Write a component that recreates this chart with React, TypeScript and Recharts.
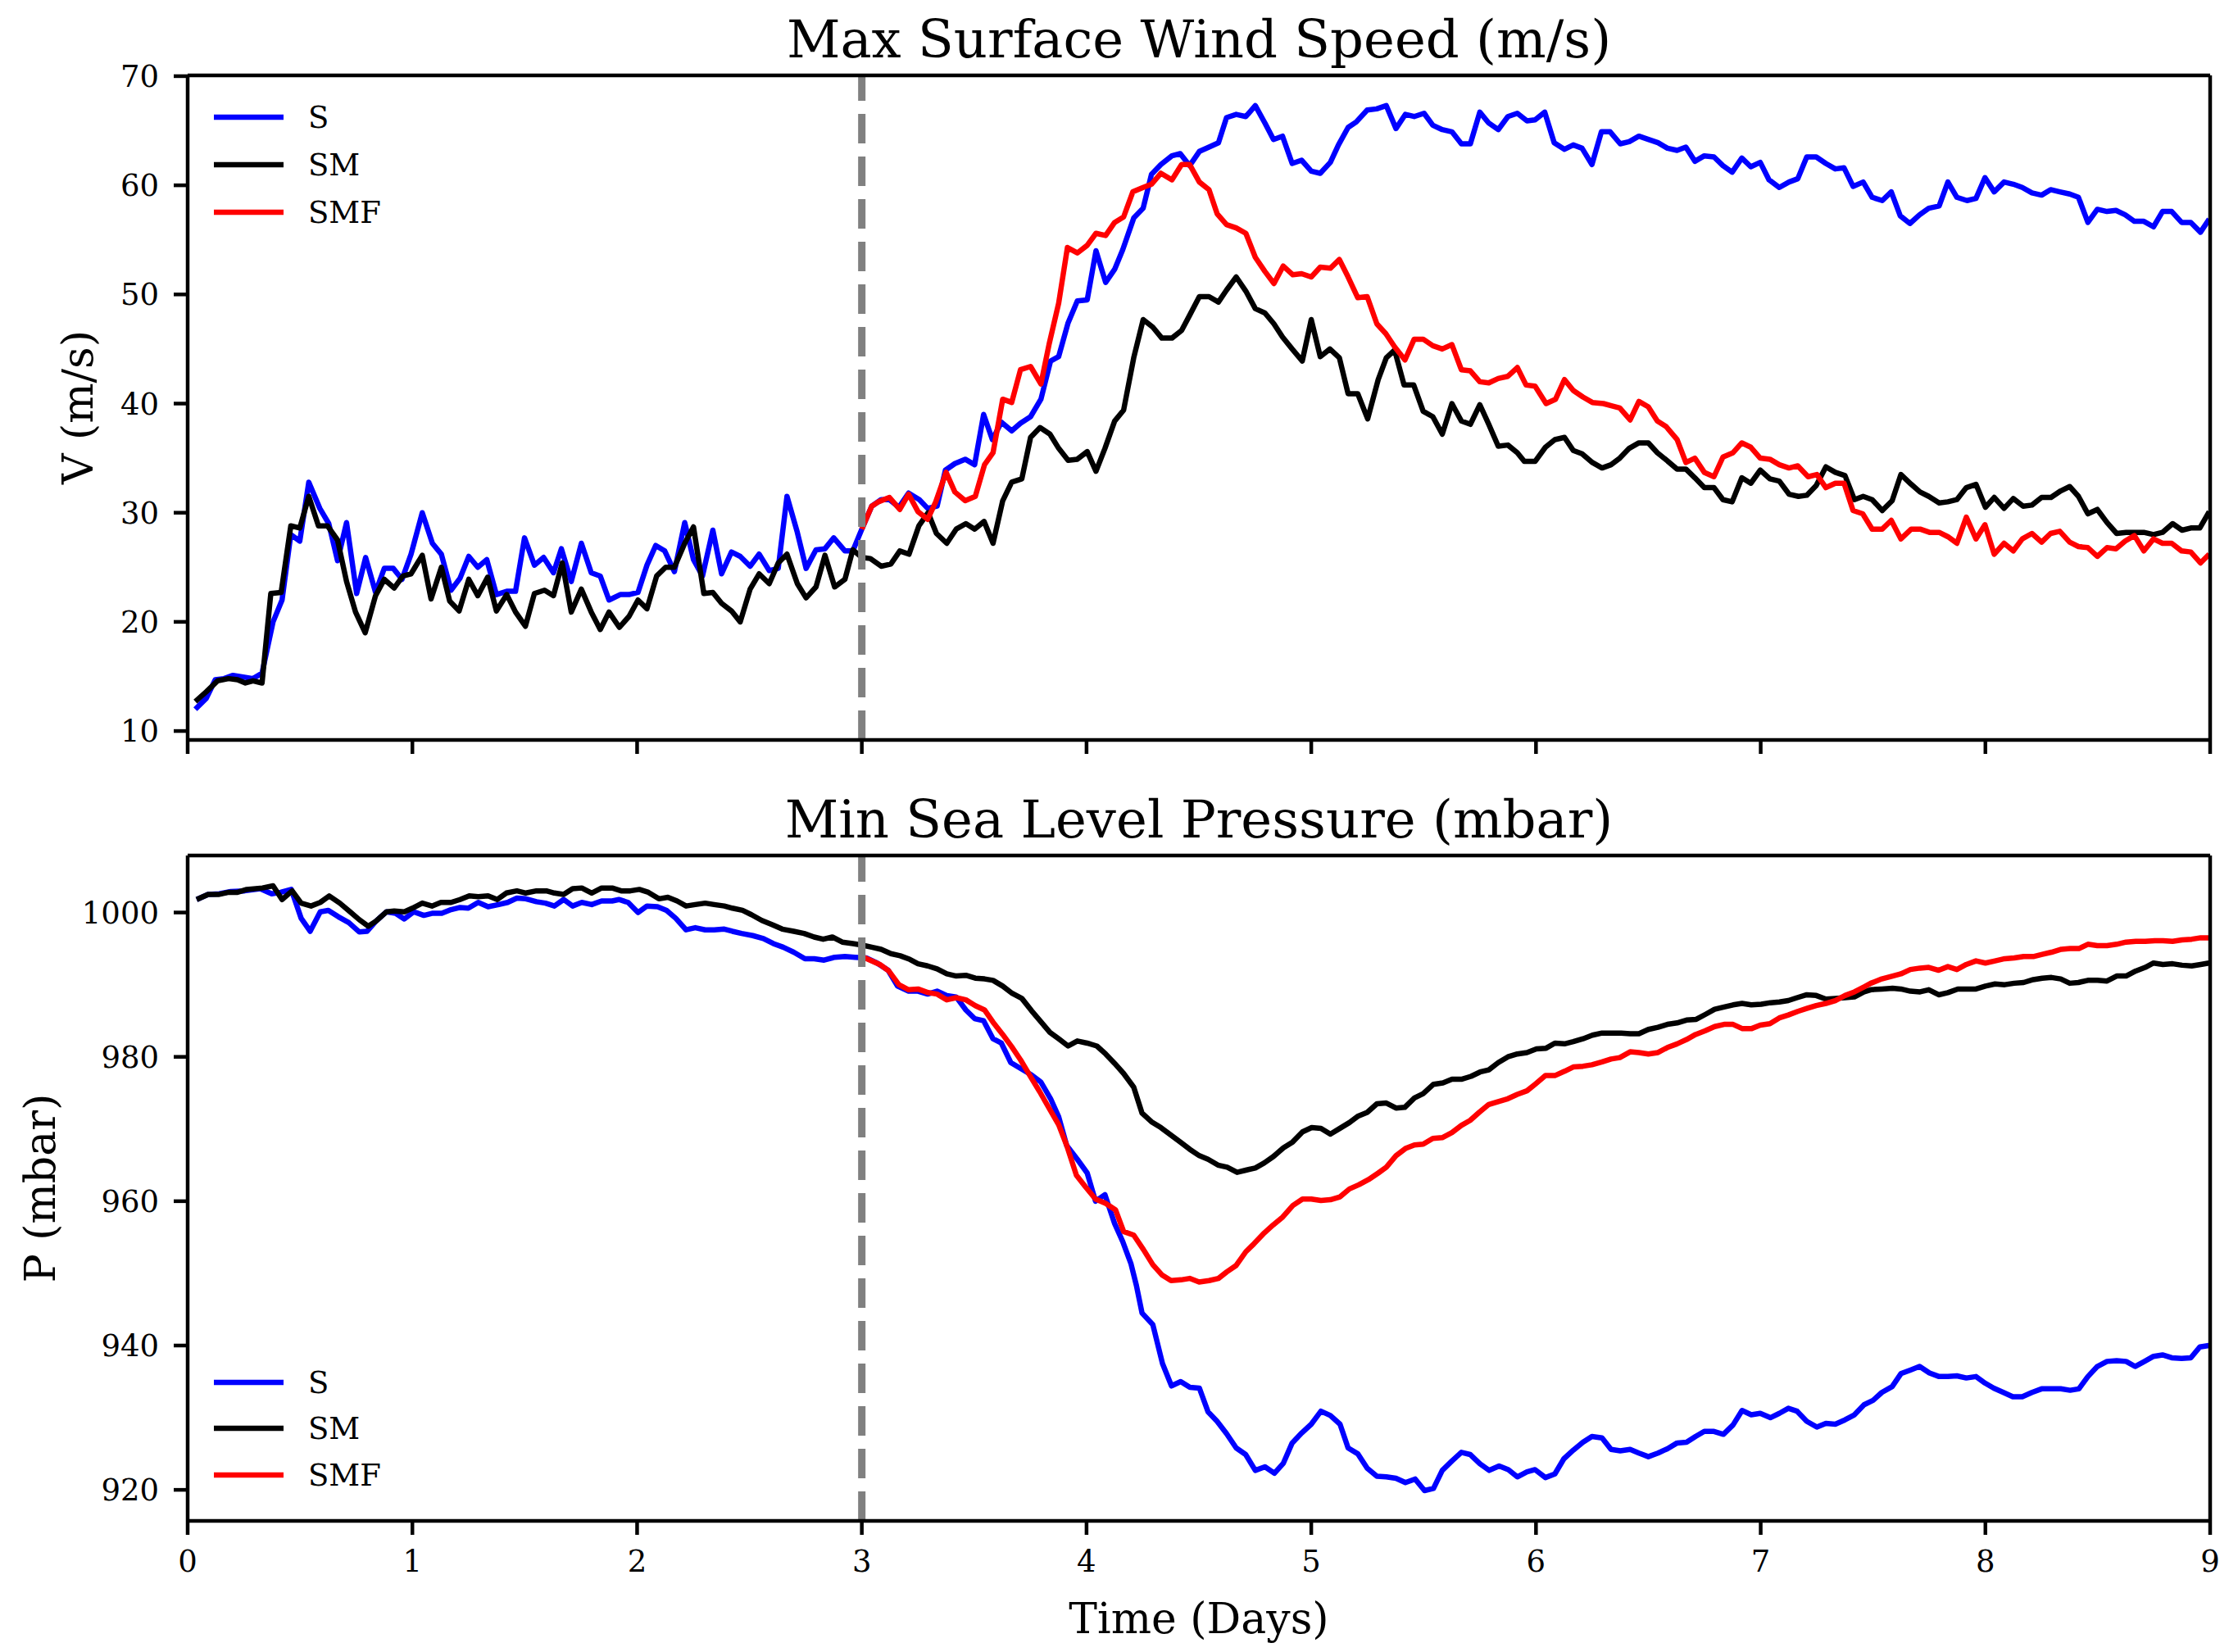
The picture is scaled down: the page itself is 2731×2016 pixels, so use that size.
import React from "react";
import { LineChart, Line, XAxis, YAxis, ReferenceLine } from "recharts";

// [day, value] pairs
const windS: [number, number][] = [
  [0.034, 12.0], [0.083, 13.0], [0.123, 14.7], [0.162, 14.8], [0.202, 15.1], [0.291, 14.8], [0.331, 15.3], [0.38, 20.0],
  [0.42, 22.0], [0.459, 28.0], [0.499, 27.4], [0.539, 32.8], [0.588, 30.4], [0.628, 29.0], [0.667, 25.6], [0.707, 29.1],
  [0.752, 22.6], [0.792, 25.9], [0.836, 22.7], [0.875, 24.9], [0.915, 24.9], [0.954, 23.9], [0.994, 26.2], [1.044, 30.0],
  [1.089, 27.2], [1.129, 26.2], [1.172, 22.9], [1.212, 24.0], [1.251, 26.0], [1.291, 25.0], [1.331, 25.7], [1.374, 22.5],
  [1.42, 22.8], [1.459, 22.8], [1.499, 27.7], [1.543, 25.2], [1.584, 25.9], [1.628, 24.5], [1.663, 26.7], [1.707, 23.7],
  [1.752, 27.2], [1.796, 24.5], [1.836, 24.2], [1.875, 22.0], [1.925, 22.5], [1.964, 22.5], [2.004, 22.7], [2.044, 25.2],
  [2.083, 27.0], [2.123, 26.5], [2.166, 24.6], [2.212, 29.1], [2.251, 25.7], [2.291, 24.2], [2.337, 28.4], [2.376, 24.4],
  [2.42, 26.4], [2.459, 26.0], [2.503, 25.1], [2.543, 26.2], [2.588, 24.7], [2.628, 24.9], [2.667, 31.5], [2.713, 28.2],
  [2.752, 24.9], [2.796, 26.6], [2.836, 26.7], [2.875, 27.7], [2.925, 26.5], [2.96, 26.5], [3.0, 28.5], [3.044, 30.6],
  [3.086, 31.2], [3.123, 31.2], [3.165, 30.5], [3.208, 31.8], [3.256, 31.2], [3.293, 30.4], [3.335, 30.6], [3.372, 33.9],
  [3.414, 34.5], [3.46, 34.9], [3.502, 34.4], [3.542, 39.0], [3.581, 36.7], [3.621, 38.3], [3.667, 37.5], [3.706, 38.2],
  [3.751, 38.8], [3.797, 40.4], [3.84, 43.9], [3.876, 44.3], [3.918, 47.4], [3.959, 49.4], [4.003, 49.5], [4.042, 54.0],
  [4.085, 51.1], [4.125, 52.3], [4.161, 54.1], [4.21, 57.0], [4.252, 57.9], [4.289, 61.0], [4.331, 61.9], [4.38, 62.7],
  [4.417, 62.9], [4.459, 61.8], [4.502, 63.1], [4.545, 63.5], [4.587, 63.9], [4.623, 66.2], [4.666, 66.5], [4.709, 66.3],
  [4.751, 67.3], [4.794, 65.7], [4.832, 64.2], [4.872, 64.5], [4.915, 62.0], [4.957, 62.3], [5.0, 61.3], [5.04, 61.1],
  [5.085, 62.1], [5.121, 63.7], [5.164, 65.3], [5.2, 65.8], [5.249, 66.9], [5.291, 67.0], [5.334, 67.3], [5.377, 65.2],
  [5.419, 66.5], [5.458, 66.3], [5.502, 66.6], [5.541, 65.5], [5.583, 65.1], [5.626, 64.9], [5.668, 63.8], [5.708, 63.8],
  [5.75, 66.7], [5.79, 65.7], [5.832, 65.1], [5.875, 66.3], [5.917, 66.6], [5.96, 65.9], [5.996, 66.0], [6.039, 66.7],
  [6.081, 63.9], [6.127, 63.3], [6.166, 63.7], [6.205, 63.4], [6.249, 61.9], [6.291, 64.9], [6.33, 64.9], [6.375, 63.8],
  [6.415, 64.0], [6.458, 64.5], [6.5, 64.2], [6.543, 63.9], [6.585, 63.4], [6.628, 63.2], [6.667, 63.5], [6.707, 62.2],
  [6.749, 62.7], [6.792, 62.6], [6.832, 61.8], [6.873, 61.2], [6.916, 62.5], [6.956, 61.7], [6.998, 62.1], [7.037, 60.5],
  [7.083, 59.8], [7.126, 60.3], [7.165, 60.6], [7.205, 62.6], [7.247, 62.6], [7.29, 62.0], [7.332, 61.5], [7.371, 61.6],
  [7.411, 59.9], [7.456, 60.3], [7.496, 58.9], [7.541, 58.6], [7.581, 59.4], [7.621, 57.2], [7.664, 56.5], [7.707, 57.3],
  [7.748, 57.9], [7.794, 58.1], [7.833, 60.3], [7.873, 58.9], [7.918, 58.6], [7.958, 58.8], [7.998, 60.7], [8.039, 59.4],
  [8.083, 60.3], [8.124, 60.1], [8.164, 59.8], [8.207, 59.3], [8.25, 59.1], [8.29, 59.6], [8.331, 59.4], [8.375, 59.2],
  [8.414, 58.9], [8.456, 56.6], [8.498, 57.8], [8.541, 57.6], [8.581, 57.7], [8.622, 57.3], [8.663, 56.7], [8.705, 56.7],
  [8.748, 56.2], [8.788, 57.6], [8.829, 57.6], [8.873, 56.6], [8.914, 56.6], [8.957, 55.7], [8.996, 56.9],
];

const windSM: [number, number][] = [
  [0.034, 12.7], [0.083, 13.6], [0.133, 14.6], [0.182, 14.8], [0.222, 14.7], [0.257, 14.4], [0.291, 14.6], [0.331, 14.4],
  [0.37, 22.6], [0.416, 22.7], [0.459, 28.8], [0.499, 28.6], [0.539, 31.5], [0.582, 28.8], [0.622, 28.8], [0.667, 27.5],
  [0.707, 23.7], [0.747, 20.9], [0.79, 19.0], [0.836, 22.4], [0.875, 23.9], [0.919, 23.1], [0.958, 24.2], [0.994, 24.4],
  [1.044, 26.1], [1.083, 22.1], [1.129, 25.0], [1.166, 21.9], [1.208, 21.0], [1.251, 23.9], [1.291, 22.4], [1.335, 24.1],
  [1.374, 21.0], [1.42, 22.5], [1.459, 20.9], [1.503, 19.6], [1.543, 22.6], [1.588, 22.9], [1.628, 22.4], [1.667, 25.4],
  [1.707, 20.9], [1.752, 23.0], [1.796, 20.9], [1.836, 19.3], [1.875, 20.9], [1.921, 19.5], [1.964, 20.5], [2.004, 22.0],
  [2.044, 21.2], [2.087, 24.2], [2.127, 25.0], [2.166, 25.0], [2.212, 27.2], [2.251, 28.7], [2.297, 22.6], [2.337, 22.7],
  [2.376, 21.7], [2.42, 21.0], [2.459, 20.0], [2.503, 23.0], [2.543, 24.4], [2.588, 23.5], [2.628, 25.4], [2.667, 26.2],
  [2.713, 23.5], [2.752, 22.2], [2.796, 23.2], [2.836, 26.1], [2.879, 23.2], [2.925, 23.9], [2.96, 26.6], [3.0, 25.9],
  [3.038, 25.8], [3.086, 25.1], [3.129, 25.3], [3.169, 26.5], [3.21, 26.2], [3.254, 28.8], [3.295, 30.0], [3.332, 28.1],
  [3.378, 27.2], [3.42, 28.5], [3.463, 29.0], [3.502, 28.5], [3.544, 29.2], [3.584, 27.2], [3.627, 31.1], [3.667, 32.8],
  [3.712, 33.1], [3.751, 36.9], [3.793, 37.8], [3.837, 37.2], [3.876, 35.9], [3.918, 34.8], [3.959, 34.9], [4.003, 35.6],
  [4.042, 33.8], [4.082, 35.9], [4.125, 38.4], [4.165, 39.4], [4.21, 44.2], [4.252, 47.7], [4.295, 47.0], [4.335, 46.0],
  [4.38, 46.0], [4.423, 46.7], [4.459, 48.1], [4.502, 49.8], [4.545, 49.8], [4.587, 49.3], [4.623, 50.4], [4.666, 51.6],
  [4.709, 50.3], [4.751, 48.7], [4.794, 48.3], [4.834, 47.3], [4.872, 46.1], [4.915, 45.0], [4.96, 43.9], [5.0, 47.7],
  [5.04, 44.3], [5.083, 45.0], [5.125, 44.2], [5.164, 40.9], [5.207, 40.9], [5.251, 38.6], [5.298, 42.2], [5.334, 44.2],
  [5.371, 44.9], [5.413, 41.7], [5.456, 41.7], [5.498, 39.3], [5.541, 38.8], [5.583, 37.2], [5.626, 40.0], [5.668, 38.4],
  [5.708, 38.1], [5.75, 39.9], [5.79, 38.1], [5.832, 36.1], [5.875, 36.2], [5.917, 35.5], [5.948, 34.7], [5.996, 34.7],
  [6.042, 36.0], [6.084, 36.7], [6.127, 36.9], [6.166, 35.7], [6.205, 35.4], [6.251, 34.6], [6.294, 34.1], [6.334, 34.4],
  [6.373, 35.0], [6.415, 35.9], [6.458, 36.4], [6.5, 36.4], [6.54, 35.5], [6.582, 34.8], [6.628, 34.0], [6.667, 34.0],
  [6.707, 33.2], [6.749, 32.3], [6.792, 32.3], [6.832, 31.2], [6.873, 31.0], [6.916, 33.2], [6.956, 32.7], [6.998, 33.9],
  [7.041, 33.1], [7.083, 32.9], [7.126, 31.7], [7.168, 31.5], [7.205, 31.6], [7.247, 32.5], [7.29, 34.2], [7.332, 33.7],
  [7.375, 33.4], [7.417, 31.2], [7.456, 31.5], [7.496, 31.2], [7.541, 30.2], [7.585, 31.1], [7.624, 33.5], [7.67, 32.6],
  [7.709, 31.9], [7.748, 31.5], [7.794, 30.9], [7.833, 31.0], [7.873, 31.2], [7.915, 32.3], [7.958, 32.6], [8.0, 30.5],
  [8.039, 31.4], [8.083, 30.4], [8.124, 31.3], [8.168, 30.6], [8.207, 30.7], [8.25, 31.4], [8.292, 31.4], [8.335, 32.0],
  [8.375, 32.4], [8.414, 31.5], [8.456, 29.9], [8.498, 30.3], [8.541, 29.1], [8.584, 28.1], [8.626, 28.2], [8.665, 28.2],
  [8.705, 28.2], [8.748, 28.0], [8.788, 28.2], [8.833, 29.0], [8.875, 28.4], [8.914, 28.6], [8.954, 28.6], [8.996, 30.1],
];

const windSMF: [number, number][] = [
  [3.0, 28.5], [3.044, 30.6], [3.074, 31.0], [3.123, 31.4], [3.169, 30.3], [3.208, 31.7], [3.25, 30.1], [3.293, 29.4],
  [3.329, 31.0], [3.375, 33.7], [3.414, 31.9], [3.46, 31.1], [3.505, 31.5], [3.546, 34.4], [3.584, 35.5], [3.627, 40.4],
  [3.667, 40.1], [3.706, 43.1], [3.751, 43.4], [3.797, 41.8], [3.833, 45.4], [3.876, 49.2], [3.915, 54.3], [3.959, 53.8],
  [4.003, 54.5], [4.042, 55.6], [4.085, 55.4], [4.125, 56.6], [4.165, 57.1], [4.206, 59.4], [4.252, 59.8], [4.289, 60.1],
  [4.331, 61.1], [4.38, 60.5], [4.423, 61.9], [4.459, 61.9], [4.502, 60.3], [4.545, 59.6], [4.581, 57.4], [4.623, 56.4],
  [4.666, 56.1], [4.709, 55.6], [4.751, 53.4], [4.794, 52.1], [4.834, 51.0], [4.875, 52.6], [4.918, 51.8], [4.957, 51.9],
  [5.0, 51.6], [5.04, 52.5], [5.085, 52.4], [5.125, 53.2], [5.164, 51.6], [5.207, 49.7], [5.249, 49.8], [5.292, 47.3],
  [5.332, 46.4], [5.371, 45.2], [5.417, 44.0], [5.458, 45.9], [5.498, 45.9], [5.541, 45.3], [5.583, 45.0], [5.626, 45.4],
  [5.668, 43.1], [5.708, 43.0], [5.75, 42.0], [5.79, 41.9], [5.832, 42.3], [5.875, 42.5], [5.917, 43.3], [5.956, 41.7],
  [5.996, 41.6], [6.045, 40.0], [6.087, 40.4], [6.127, 42.2], [6.166, 41.2], [6.209, 40.6], [6.251, 40.1], [6.3, 40.0],
  [6.335, 39.8], [6.373, 39.6], [6.419, 38.5], [6.458, 40.2], [6.5, 39.7], [6.54, 38.4], [6.579, 37.9], [6.628, 36.7],
  [6.667, 34.6], [6.707, 35.0], [6.749, 33.7], [6.792, 33.3], [6.832, 35.1], [6.877, 35.5], [6.916, 36.4], [6.956, 36.0],
  [6.998, 35.0], [7.041, 34.9], [7.083, 34.4], [7.126, 34.1], [7.165, 34.3], [7.211, 33.3], [7.25, 33.5], [7.29, 32.3],
  [7.332, 32.7], [7.371, 32.7], [7.411, 30.2], [7.454, 29.9], [7.496, 28.5], [7.541, 28.5], [7.581, 29.3], [7.624, 27.6],
  [7.67, 28.5], [7.709, 28.5], [7.751, 28.2], [7.794, 28.2], [7.833, 27.8], [7.873, 27.2], [7.915, 29.6], [7.958, 27.6],
  [7.998, 28.9], [8.039, 26.2], [8.083, 27.2], [8.124, 26.5], [8.164, 27.6], [8.207, 28.1], [8.25, 27.3], [8.29, 28.1],
  [8.331, 28.3], [8.375, 27.3], [8.414, 26.9], [8.456, 26.8], [8.498, 26.0], [8.541, 26.8], [8.581, 26.7], [8.622, 27.4],
  [8.663, 27.9], [8.705, 26.5], [8.748, 27.6], [8.788, 27.2], [8.829, 27.2], [8.873, 26.5], [8.914, 26.4], [8.957, 25.4],
  [8.996, 26.2],
];

const presS: [number, number][] = [
  [0.04, 1001.8], [0.091, 1002.5], [0.141, 1002.6], [0.192, 1002.9], [0.253, 1003.0], [0.323, 1003.3], [0.374, 1002.6],
  [0.414, 1002.8], [0.461, 1003.2], [0.505, 999.2], [0.545, 997.4], [0.59, 1000.1], [0.626, 1000.3], [0.671, 999.4],
  [0.717, 998.6], [0.764, 997.3], [0.798, 997.4], [0.838, 998.8], [0.885, 1000.1], [0.925, 999.9], [0.964, 999.1],
  [1.006, 1000.1], [1.051, 999.6], [1.091, 999.9], [1.131, 999.9], [1.172, 1000.4], [1.212, 1000.7], [1.249, 1000.6],
  [1.293, 1001.4], [1.337, 1000.8], [1.384, 1001.1], [1.424, 1001.4], [1.465, 1002.0], [1.505, 1001.9], [1.552, 1001.5],
  [1.592, 1001.3], [1.632, 1000.9], [1.673, 1001.8], [1.713, 1000.9], [1.754, 1001.4], [1.798, 1001.1], [1.842, 1001.6],
  [1.889, 1001.6], [1.919, 1001.8], [1.96, 1001.4], [2.004, 1000.0], [2.044, 1000.9], [2.091, 1000.8], [2.131, 1000.3],
  [2.172, 999.2], [2.218, 997.6], [2.259, 997.9], [2.303, 997.6], [2.343, 997.6], [2.388, 997.7], [2.424, 997.4],
  [2.465, 997.1], [2.515, 996.8], [2.562, 996.4], [2.606, 995.7], [2.65, 995.2], [2.697, 994.5], [2.747, 993.6],
  [2.788, 993.6], [2.832, 993.4], [2.879, 993.8], [2.925, 993.9], [2.97, 993.8], [3.02, 993.7], [3.068, 993.0],
  [3.117, 992.0], [3.159, 989.8], [3.208, 989.1], [3.25, 989.1], [3.293, 988.7], [3.335, 989.1], [3.378, 988.5],
  [3.42, 988.3], [3.463, 986.5], [3.502, 985.3], [3.542, 985.0], [3.584, 982.5], [3.621, 981.9], [3.663, 979.2],
  [3.706, 978.4], [3.755, 977.5], [3.797, 976.5], [3.84, 974.2], [3.876, 971.7], [3.912, 967.7], [3.959, 965.8],
  [4.003, 963.9], [4.04, 960.0], [4.082, 960.9], [4.125, 956.9], [4.161, 954.4], [4.198, 951.3], [4.222, 948.3],
  [4.247, 944.5], [4.295, 942.9], [4.338, 937.5], [4.378, 934.4], [4.419, 935.0], [4.46, 934.2], [4.502, 934.1],
  [4.541, 930.8], [4.581, 929.5], [4.623, 927.8], [4.666, 925.8], [4.708, 924.9], [4.751, 922.7], [4.794, 923.2],
  [4.836, 922.3], [4.876, 923.7], [4.915, 926.5], [4.958, 927.9], [5.0, 929.1], [5.043, 930.9], [5.085, 930.3],
  [5.128, 929.1], [5.164, 925.8], [5.207, 925.0], [5.249, 923.0], [5.292, 921.9], [5.334, 921.8], [5.377, 921.6],
  [5.419, 921.0], [5.462, 921.5], [5.504, 919.9], [5.544, 920.2], [5.583, 922.7], [5.626, 924.0], [5.668, 925.2],
  [5.707, 924.9], [5.751, 923.6], [5.792, 922.7], [5.836, 923.3], [5.877, 922.8], [5.917, 921.8], [5.96, 922.5],
  [5.996, 922.8], [6.042, 921.7], [6.084, 922.2], [6.124, 924.3], [6.166, 925.5], [6.209, 926.6], [6.249, 927.4],
  [6.294, 927.2], [6.334, 925.6], [6.375, 925.4], [6.419, 925.6], [6.458, 925.1], [6.5, 924.6], [6.543, 925.1],
  [6.585, 925.7], [6.628, 926.5], [6.67, 926.6], [6.71, 927.4], [6.749, 928.1], [6.792, 928.1], [6.834, 927.7],
  [6.877, 929.0], [6.917, 931.0], [6.958, 930.4], [6.998, 930.6], [7.043, 930.0], [7.083, 930.6], [7.123, 931.3],
  [7.162, 930.9], [7.205, 929.5], [7.25, 928.7], [7.29, 929.2], [7.332, 929.1], [7.375, 929.7], [7.417, 930.4],
  [7.46, 931.8], [7.5, 932.4], [7.539, 933.5], [7.585, 934.3], [7.624, 936.1], [7.666, 936.6], [7.707, 937.1],
  [7.751, 936.2], [7.794, 935.7], [7.833, 935.7], [7.873, 935.8], [7.915, 935.5], [7.958, 935.7], [7.998, 934.8],
  [8.037, 934.1], [8.08, 933.5], [8.122, 932.9], [8.164, 932.9], [8.207, 933.5], [8.25, 934.0], [8.292, 934.0],
  [8.335, 934.0], [8.377, 933.8], [8.416, 934.0], [8.456, 935.7], [8.498, 937.1], [8.541, 937.8], [8.584, 937.9],
  [8.626, 937.8], [8.666, 937.1], [8.708, 937.8], [8.748, 938.5], [8.788, 938.7], [8.829, 938.3], [8.873, 938.2],
  [8.914, 938.3], [8.954, 939.8], [8.994, 940.0],
];

const presSM: [number, number][] = [
  [0.04, 1001.8], [0.091, 1002.5], [0.137, 1002.5], [0.182, 1002.8], [0.222, 1002.8], [0.263, 1003.2], [0.333, 1003.4],
  [0.38, 1003.7], [0.42, 1001.8], [0.465, 1003.0], [0.505, 1001.3], [0.549, 1000.9], [0.59, 1001.4], [0.63, 1002.3],
  [0.677, 1001.3], [0.723, 1000.1], [0.764, 999.0], [0.804, 998.1], [0.838, 998.8], [0.885, 1000.1], [0.919, 1000.2],
  [0.964, 1000.1], [1.0, 1000.6], [1.044, 1001.3], [1.087, 1000.9], [1.127, 1001.4], [1.172, 1001.4], [1.212, 1001.8],
  [1.253, 1002.3], [1.293, 1002.2], [1.337, 1002.3], [1.378, 1001.8], [1.418, 1002.7], [1.465, 1003.0], [1.505, 1002.7],
  [1.552, 1003.0], [1.596, 1003.0], [1.632, 1002.7], [1.673, 1002.5], [1.713, 1003.3], [1.754, 1003.4], [1.798, 1002.7],
  [1.842, 1003.4], [1.889, 1003.4], [1.929, 1003.0], [1.97, 1003.0], [2.01, 1003.2], [2.05, 1002.8], [2.097, 1001.9],
  [2.137, 1002.1], [2.178, 1001.6], [2.218, 1000.9], [2.259, 1001.1], [2.303, 1001.3], [2.343, 1001.1], [2.388, 1000.9],
  [2.424, 1000.6], [2.469, 1000.3], [2.509, 999.7], [2.555, 998.9], [2.602, 998.3], [2.646, 997.7], [2.697, 997.4],
  [2.743, 997.1], [2.788, 996.6], [2.828, 996.3], [2.869, 996.6], [2.913, 995.9], [2.96, 995.7], [3.0, 995.5],
  [3.044, 995.2], [3.086, 994.9], [3.129, 994.3], [3.171, 994.0], [3.214, 993.5], [3.25, 992.9], [3.293, 992.6],
  [3.335, 992.2], [3.378, 991.5], [3.42, 991.2], [3.463, 991.3], [3.505, 990.9], [3.546, 990.8], [3.584, 990.6],
  [3.627, 989.8], [3.669, 988.8], [3.712, 988.1], [3.755, 986.4], [3.793, 985.0], [3.837, 983.4], [3.876, 982.5],
  [3.918, 981.5], [3.959, 982.2], [4.003, 981.9], [4.046, 981.5], [4.085, 980.4], [4.125, 979.1], [4.165, 977.7],
  [4.21, 975.8], [4.247, 972.2], [4.289, 971.0], [4.331, 970.2], [4.374, 969.2], [4.417, 968.2], [4.459, 967.2],
  [4.502, 966.3], [4.541, 965.8], [4.585, 965.0], [4.626, 964.7], [4.67, 964.0], [4.709, 964.3], [4.751, 964.6],
  [4.791, 965.3], [4.832, 966.2], [4.876, 967.4], [4.917, 968.2], [4.961, 969.6], [5.002, 970.2], [5.043, 970.1],
  [5.085, 969.3], [5.128, 970.1], [5.17, 970.9], [5.209, 971.8], [5.249, 972.3], [5.292, 973.5], [5.334, 973.6],
  [5.377, 972.9], [5.416, 973.0], [5.459, 974.3], [5.498, 974.9], [5.544, 976.2], [5.586, 976.4], [5.626, 976.9],
  [5.668, 976.9], [5.711, 977.3], [5.751, 977.9], [5.79, 978.2], [5.832, 979.2], [5.875, 980.0], [5.917, 980.4],
  [5.96, 980.6], [6.002, 981.1], [6.045, 981.2], [6.084, 981.9], [6.127, 981.8], [6.166, 982.1], [6.209, 982.5],
  [6.251, 983.0], [6.294, 983.3], [6.336, 983.3], [6.379, 983.3], [6.419, 983.2], [6.458, 983.2], [6.5, 983.8],
  [6.543, 984.1], [6.585, 984.5], [6.628, 984.7], [6.67, 985.1], [6.713, 985.2], [6.755, 985.9], [6.795, 986.6],
  [6.837, 986.9], [6.877, 987.2], [6.917, 987.4], [6.958, 987.2], [7.002, 987.3], [7.043, 987.5], [7.083, 987.6],
  [7.123, 987.8], [7.162, 988.2], [7.205, 988.6], [7.247, 988.5], [7.29, 988.0], [7.332, 988.1], [7.375, 988.2],
  [7.417, 988.3], [7.46, 989.0], [7.49, 989.3], [7.539, 989.4], [7.587, 989.5], [7.624, 989.4], [7.666, 989.1],
  [7.709, 989.0], [7.748, 989.3], [7.792, 988.6], [7.833, 988.9], [7.877, 989.4], [7.918, 989.4], [7.958, 989.4],
  [8.0, 989.8], [8.043, 990.1], [8.086, 990.0], [8.128, 990.2], [8.17, 990.3], [8.213, 990.7], [8.253, 990.9],
  [8.294, 991.0], [8.335, 990.8], [8.375, 990.2], [8.414, 990.3], [8.456, 990.6], [8.498, 990.6], [8.541, 990.5],
  [8.584, 991.2], [8.626, 991.2], [8.669, 991.9], [8.711, 992.4], [8.748, 993.0], [8.79, 992.8], [8.833, 992.9],
  [8.875, 992.7], [8.918, 992.6], [8.958, 992.8], [8.994, 993.0],
];

const presSMF: [number, number][] = [
  [3.0, 993.9], [3.08, 992.8], [3.12, 991.9], [3.165, 990.0], [3.208, 989.3], [3.25, 989.4], [3.295, 988.9],
  [3.335, 988.7], [3.378, 987.9], [3.42, 988.2], [3.463, 987.9], [3.505, 987.1], [3.546, 986.5], [3.584, 984.8],
  [3.627, 983.1], [3.667, 981.4], [3.706, 979.6], [3.748, 977.4], [3.791, 975.2], [3.833, 972.9], [3.876, 970.6],
  [3.912, 967.7], [3.955, 963.6], [3.995, 962.0], [4.04, 960.3], [4.085, 959.7], [4.129, 958.8], [4.165, 955.8],
  [4.21, 955.3], [4.253, 953.3], [4.295, 951.2], [4.335, 949.8], [4.376, 949.0], [4.42, 949.1], [4.459, 949.3],
  [4.501, 948.8], [4.545, 949.0], [4.587, 949.3], [4.624, 950.2], [4.666, 951.1], [4.709, 953.0], [4.745, 954.1],
  [4.791, 955.6], [4.83, 956.7], [4.873, 957.8], [4.918, 959.4], [4.961, 960.3], [5.0, 960.3], [5.043, 960.1],
  [5.085, 960.2], [5.128, 960.6], [5.17, 961.7], [5.213, 962.3], [5.255, 963.0], [5.298, 963.9], [5.334, 964.7],
  [5.377, 966.3], [5.419, 967.3], [5.459, 967.8], [5.498, 967.9], [5.541, 968.7], [5.583, 968.8], [5.626, 969.5],
  [5.668, 970.5], [5.707, 971.2], [5.747, 972.3], [5.79, 973.4], [5.832, 973.8], [5.875, 974.2], [5.917, 974.8],
  [5.96, 975.3], [5.996, 976.2], [6.042, 977.4], [6.084, 977.4], [6.127, 978.0], [6.166, 978.6], [6.209, 978.7],
  [6.249, 978.9], [6.294, 979.3], [6.334, 979.7], [6.373, 979.9], [6.419, 980.7], [6.458, 980.6], [6.5, 980.4],
  [6.543, 980.6], [6.585, 981.3], [6.628, 981.8], [6.67, 982.4], [6.71, 983.1], [6.752, 983.6], [6.795, 984.2],
  [6.837, 984.5], [6.877, 984.5], [6.919, 983.9], [6.958, 983.9], [6.998, 984.4], [7.041, 984.6], [7.083, 985.4],
  [7.123, 985.8], [7.165, 986.3], [7.205, 986.7], [7.247, 987.1], [7.29, 987.4], [7.332, 987.8], [7.375, 988.5],
  [7.417, 989.0], [7.46, 989.7], [7.49, 990.2], [7.539, 990.8], [7.587, 991.2], [7.624, 991.5], [7.666, 992.1],
  [7.709, 992.3], [7.748, 992.4], [7.792, 992.0], [7.833, 992.5], [7.873, 992.1], [7.915, 992.8], [7.958, 993.3],
  [8.0, 993.0], [8.043, 993.3], [8.086, 993.6], [8.128, 993.7], [8.17, 993.9], [8.213, 993.9], [8.253, 994.2],
  [8.294, 994.5], [8.338, 994.9], [8.377, 995.0], [8.416, 995.0], [8.456, 995.6], [8.498, 995.4], [8.541, 995.4],
  [8.584, 995.6], [8.626, 995.9], [8.669, 996.0], [8.711, 996.0], [8.754, 996.1], [8.79, 996.1], [8.833, 996.0],
  [8.875, 996.2], [8.918, 996.3], [8.958, 996.5], [8.994, 996.5],
];

const dayTicks = [0, 1, 2, 3, 4, 5, 6, 7, 8, 9];
const windTicks = [10, 20, 30, 40, 50, 60, 70];
const presTicks = [920, 940, 960, 980, 1000];
const seriesNames = ["S", "SM", "SMF"];
const seriesColors = ["#0000ff", "#000000", "#ff0000"];

const FONT = "'DejaVu Serif', serif";
const toPts = (arr: [number, number][]) => arr.map(([t, v]) => ({ t, v }));

const axisLine = { stroke: "#000", strokeWidth: 4.5 };
const tickStyle = { fontSize: 37, fill: "#000", fontFamily: FONT };
// shared x axis: the upper panel keeps its tick marks but shows no labels
const NoLabel = () => <g />;

function Panel({
  series,
  domain,
  yTicks,
  height,
  margin,
  xAxisHeight,
  showXLabels,
}: {
  series: [number, number][][];
  domain: [number, number];
  yTicks: number[];
  height: number;
  margin: { top: number; right: number; bottom: number; left: number };
  xAxisHeight: number;
  showXLabels: boolean;
}) {
  return (
    <LineChart width={2731} height={height} margin={margin}>
      <XAxis
        dataKey="t"
        type="number"
        domain={[0, 9]}
        ticks={dayTicks}
        interval={0}
        allowDataOverflow
        height={xAxisHeight}
        tickSize={17}
        tickMargin={19}
        axisLine={axisLine}
        tickLine={axisLine}
        tick={showXLabels ? tickStyle : NoLabel}
      />
      <YAxis
        type="number"
        domain={domain}
        ticks={yTicks}
        interval={0}
        allowDataOverflow
        width={229}
        tickSize={17}
        tickMargin={18}
        axisLine={axisLine}
        tickLine={axisLine}
        tick={tickStyle}
      />
      {series.map((s, i) => (
        <Line
          key={seriesNames[i]}
          data={toPts(s)}
          dataKey="v"
          name={seriesNames[i]}
          stroke={seriesColors[i]}
          strokeWidth={6.5}
          strokeLinejoin="round"
          dot={false}
          isAnimationActive={false}
        />
      ))}
      <ReferenceLine x={3} stroke="#808080" strokeWidth={9} strokeDasharray="36 16" />
      {/* top and right spines of the frame */}
      <ReferenceLine y={domain[1]} stroke="#000" strokeWidth={4.5} />
      <ReferenceLine x={9} stroke="#000" strokeWidth={4.5} />
    </LineChart>
  );
}

function LegendBox({ rows }: { rows: number[] }) {
  return (
    <g>
      {seriesNames.map((name, i) => (
        <g key={name}>
          <line x1={261} x2={346} y1={rows[i]} y2={rows[i]} stroke={seriesColors[i]} strokeWidth={6.5} />
          <text x={376} y={rows[i] + 13} fontSize={37} fontFamily={FONT} fill="#000">
            {name}
          </text>
        </g>
      ))}
    </g>
  );
}

export default function App() {
  return (
    <div style={{ position: "absolute", left: 0, top: 0, width: 2731, height: 2016, background: "#fff" }}>
      <div style={{ position: "absolute", left: 0, top: 0 }}>
        <Panel
          series={[windS, windSM, windSMF]}
          domain={[9.18, 70.07]}
          yTicks={windTicks}
          height={960}
          margin={{ top: 92, right: 34, bottom: 17, left: 0 }}
          xAxisHeight={40}
          showXLabels={false}
        />
      </div>
      <div style={{ position: "absolute", left: 0, top: 960 }}>
        <Panel
          series={[presS, presSM, presSMF]}
          domain={[915.7, 1007.9]}
          yTicks={presTicks}
          height={1056}
          margin={{ top: 84, right: 34, bottom: 30, left: 0 }}
          xAxisHeight={130}
          showXLabels={true}
        />
      </div>
      <svg width={2731} height={2016} style={{ position: "absolute", left: 0, top: 0, pointerEvents: "none" }}>
        <text x={1463} y={70} textAnchor="middle" fontSize={64} fontFamily={FONT} fill="#000">
          Max Surface Wind Speed (m/s)
        </text>
        <text x={1463} y={1022} textAnchor="middle" fontSize={64} fontFamily={FONT} fill="#000">
          Min Sea Level Pressure (mbar)
        </text>
        <text x={1463} y={1993} textAnchor="middle" fontSize={52} fontFamily={FONT} fill="#000">
          Time (Days)
        </text>
        <text x={113} y={497} transform="rotate(-90 113 497)" textAnchor="middle" fontSize={52} fontFamily={FONT} fill="#000">
          V (m/s)
        </text>
        <text x={67} y={1450} transform="rotate(-90 67 1450)" textAnchor="middle" fontSize={52} fontFamily={FONT} fill="#000">
          P (mbar)
        </text>
        <LegendBox rows={[143, 201, 259]} />
        <LegendBox rows={[1687, 1743, 1800]} />
      </svg>
    </div>
  );
}
